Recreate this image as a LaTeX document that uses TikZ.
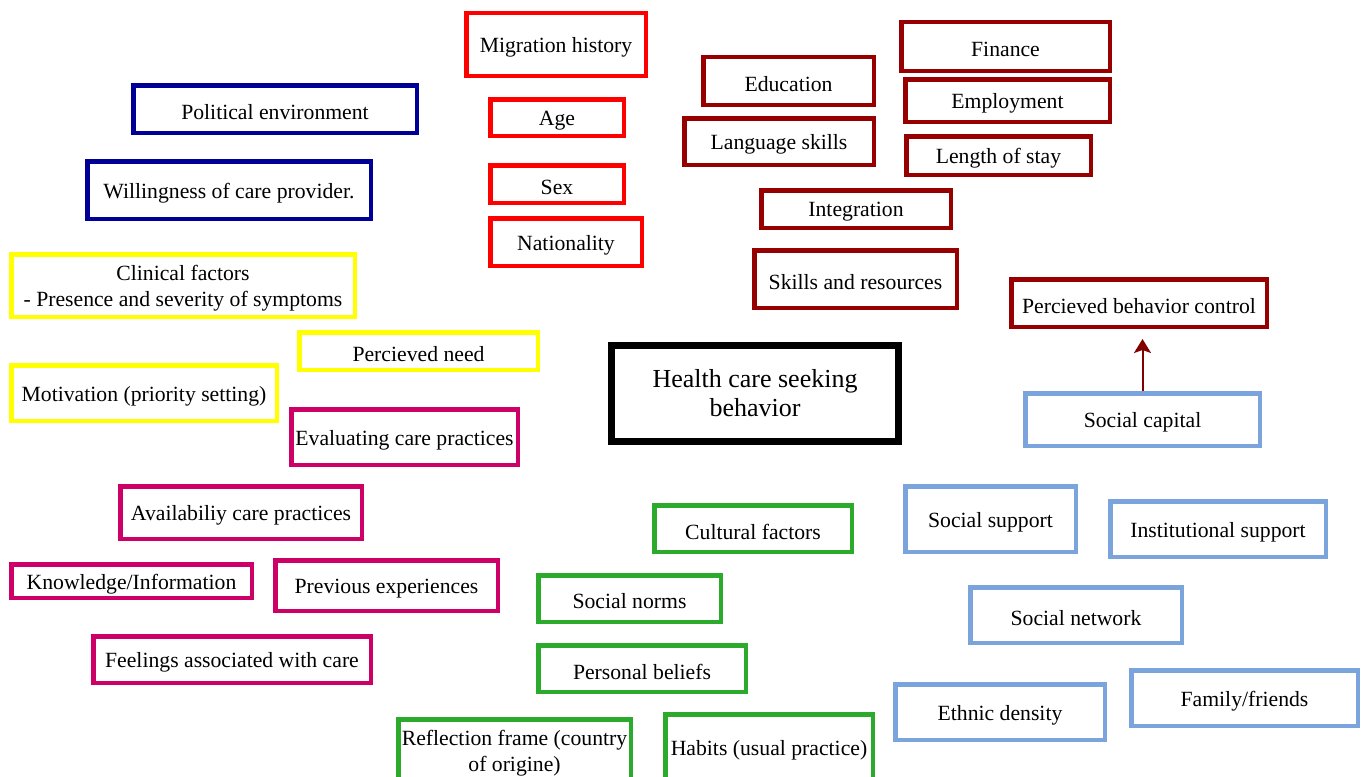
\documentclass[tikz,border=0pt]{standalone}
\usepackage{fontspec}
\setmainfont{Liberation Serif}
\usetikzlibrary{arrows.meta}
\definecolor{cnavy}{RGB}{0,0,150}
\definecolor{cred}{RGB}{255,0,0}
\definecolor{cmaroon}{RGB}{150,0,0}
\definecolor{cyel}{RGB}{255,255,0}
\definecolor{cmag}{RGB}{204,0,102}
\definecolor{cgreen}{RGB}{44,170,44}
\definecolor{cblue}{RGB}{124,164,220}
\definecolor{carrow}{RGB}{128,0,0}
\tikzset{
  box/.style={draw=#1, line width=4.5pt, inner sep=0pt},
  boxtext/.style={inner sep=0pt, align=center,
    font=\fontsize{21.7}{26}\selectfont, text=black},
  mainbox/.style={draw=black, line width=7pt, inner sep=0pt, align=center,
    font=\fontsize{26}{29}\selectfont},
  link/.style={draw=carrow, line width=2pt, -{Stealth[length=14pt,width=17pt,inset=3pt]}}
}
\newcommand\bx[7]{%
  \node[box=#6, minimum width={(#4-#2-4.5)*1pt}, minimum height={(#5-#3-4.5)*1pt}]
    (#1) at ({(#2+#4)/2},{(#3+#5)/2}) {};
  \node[boxtext] (#1-t) at ([yshift=-3pt]#1.center) {#7};}
\begin{document}
\begin{tikzpicture}[x=1pt,y=-1pt]
\clip (0,0) rectangle (1364,776);
\fill[white] (0,0) rectangle (1364,776);
% navy
\bx{pol}{131}{83}{419}{135}{cnavy}{Political environment}
\bx{will}{85}{159}{373}{221}{cnavy}{Willingness of care provider.}
% red
\bx{mig}{464}{11}{648}{78}{cred}{Migration history}
\bx{age}{488}{97}{626}{138}{cred}{Age}
\bx{sex}{488}{163}{626}{205}{cred}{Sex}
\bx{nat}{488}{216}{644}{268}{cred}{Nationality}
% maroon
\bx{edu}{701}{55}{876}{107}{cmaroon}{Education}
\bx{lang}{682}{116}{876}{167}{cmaroon}{Language skills}
\bx{integ}{759}{188}{953}{230}{cmaroon}{Integration}
\bx{skills}{752}{248}{959}{310}{cmaroon}{Skills and resources}
\bx{fin}{899}{20}{1112}{73}{cmaroon}{Finance}
\bx{emp}{903}{77}{1112}{124}{cmaroon}{Employment}
\bx{stay}{904}{134}{1093}{177}{cmaroon}{Length of stay}
\bx{pbc}{1009}{277}{1269}{329}{cmaroon}{Percieved behavior control}
% yellow
\bx{clin}{9}{252}{357}{319}{cyel}{Clinical factors\\- Presence and severity of symptoms}
\bx{need}{297}{330}{540}{372}{cyel}{Percieved need}
\bx{mot}{9}{363}{279}{423}{cyel}{Motivation (priority setting)}
% magenta
\bx{eval}{289}{407}{520}{467}{cmag}{Evaluating care practices}
\bx{avail}{118}{484}{364}{541}{cmag}{Availabiliy care practices}
\bx{know}{9}{562}{254}{600}{cmag}{Knowledge/Information}
\bx{prev}{273}{558}{500}{613}{cmag}{Previous experiences}
\bx{feel}{91}{634}{373}{685}{cmag}{Feelings associated with care}
% green
\bx{cult}{652}{503}{854}{554}{cgreen}{Cultural factors}
\bx{norms}{536}{573}{723}{624}{cgreen}{Social norms}
\bx{beliefs}{536}{643}{748}{694}{cgreen}{Personal beliefs}
\bx{refl}{396}{717}{633}{783}{cgreen}{Reflection frame (country\\of origine)}
\bx{habits}{663}{712}{875}{782}{cgreen}{Habits (usual practice)}
% light blue
\bx{cap}{1023}{391}{1262}{448}{cblue}{Social capital}
\bx{supp}{903}{484}{1078}{554}{cblue}{Social support}
\bx{inst}{1108}{499}{1328}{559}{cblue}{Institutional support}
\bx{netw}{968}{585}{1184}{645}{cblue}{Social network}
\bx{eth}{893}{682}{1107}{742}{cblue}{Ethnic density}
\bx{fam}{1129}{668}{1360}{728}{cblue}{Family/friends}
% central
\node[mainbox, minimum width=287pt, minimum height=96pt] (hcsb) at (755,393.5)
  {Health care seeking\\behavior};
% arrow
\draw[link, shorten >=10pt] (cap.north) -- (cap.north |- pbc.south);
\end{tikzpicture}
\end{document}
